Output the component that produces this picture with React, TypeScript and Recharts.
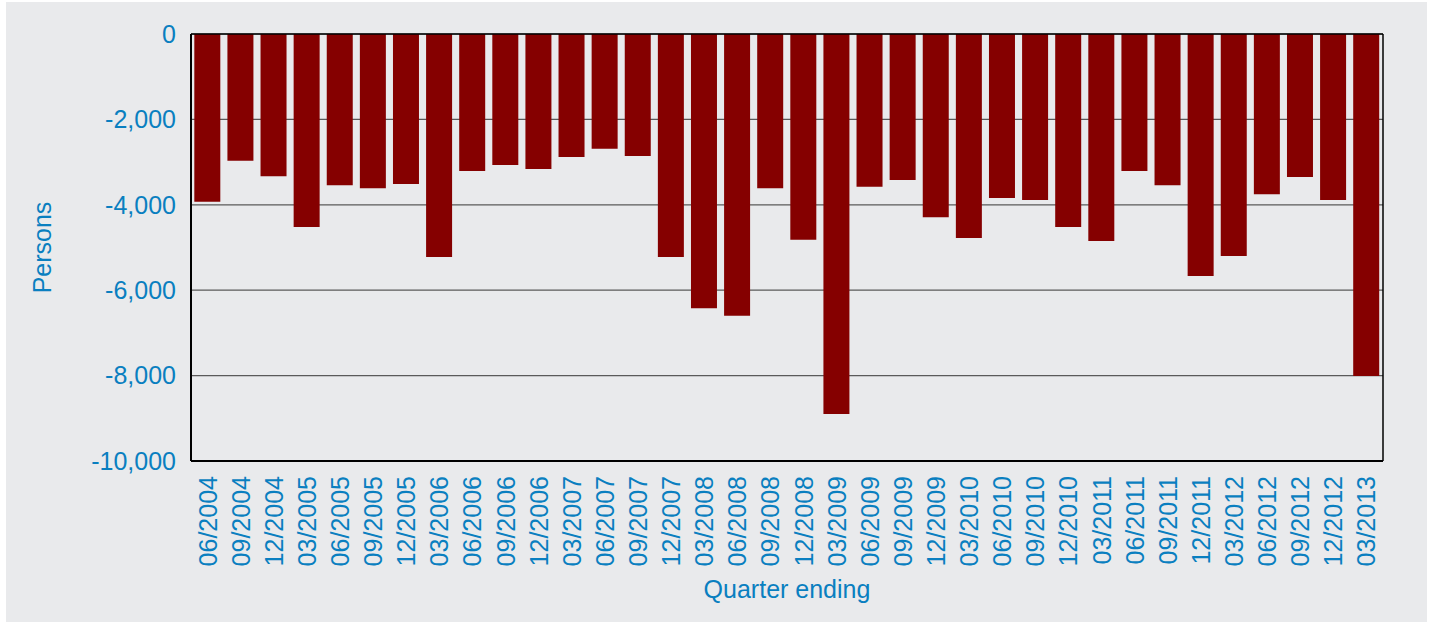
import React from 'react';
import {
    BarChart, Bar, XAxis, YAxis, CartesianGrid, Label, ReferenceLine
} from 'recharts';

const quarters = [
    '06/2004', '09/2004', '12/2004',
    '03/2005', '06/2005', '09/2005', '12/2005',
    '03/2006', '06/2006', '09/2006', '12/2006',
    '03/2007', '06/2007', '09/2007', '12/2007',
    '03/2008', '06/2008', '09/2008', '12/2008',
    '03/2009', '06/2009', '09/2009', '12/2009',
    '03/2010', '06/2010', '09/2010', '12/2010',
    '03/2011', '06/2011', '09/2011', '12/2011',
    '03/2012', '06/2012', '09/2012', '12/2012',
    '03/2013',
];

const persons = [
    -3930, -2970, -3330,
    -4520, -3540, -3610, -3510,
    -5220, -3210, -3070, -3160,
    -2880, -2690, -2860, -5220,
    -6420, -6600, -3610, -4820,
    -8900, -3580, -3420, -4290,
    -4780, -3840, -3890, -4520,
    -4850, -3210, -3540, -5670,
    -5200, -3750, -3350, -3890,
    -8010,
];

const yTicks = [0, -2000, -4000, -6000, -8000, -10000];

const BLUE = '#0a7fc0';
const FONT = '"Liberation Sans", Arial, sans-serif';

const data = quarters.map((q, i) => ({ quarter: q, value: persons[i] }));

// rotated category labels, reading bottom-to-top
const QuarterTick = (props: any) => {
    const { x, y, payload } = props;
    return (
        <text
            x={x}
            y={y}
            transform={`rotate(-90, ${x}, ${y})`}
            textAnchor="end"
            dominantBaseline="central"
            fill={BLUE}
            fontSize={25}
            fontFamily={FONT}
        >
            {payload.value}
        </text>
    );
};

const App: React.FC = () => {
    return (
        <div style={{ position: 'fixed', left: 0, top: 0, width: 1430, height: 622, background: '#fff' }}>
            <div style={{ position: 'absolute', left: 6, top: 2, width: 1421, height: 620, background: '#e9eaec' }} />
            <div style={{ position: 'absolute', left: 0, top: 0 }}>
                <BarChart
                    width={1430}
                    height={622}
                    data={data}
                    margin={{ top: 34, right: 47, left: 0, bottom: 0 }}
                    barCategoryGap="10%"
                >
                    <CartesianGrid horizontal vertical={false} stroke="#5a5a5a" strokeWidth={1.2} />
                    <XAxis
                        dataKey="quarter"
                        interval={0}
                        height={161}
                        tickLine={false}
                        tickSize={0}
                        tickMargin={15}
                        axisLine={{ stroke: '#000', strokeWidth: 2 }}
                        tick={<QuarterTick />}
                    >
                        <Label
                            content={(p: any) => (
                                <text
                                    x={p.viewBox.x + p.viewBox.width / 2}
                                    y={598}
                                    textAnchor="middle"
                                    fill={BLUE}
                                    fontSize={25}
                                    fontFamily={FONT}
                                >
                                    Quarter ending
                                </text>
                            )}
                        />
                    </XAxis>
                    <YAxis
                        width={191}
                        domain={[-10000, 0]}
                        ticks={yTicks}
                        interval={0}
                        tickLine={false}
                        tickSize={0}
                        tickMargin={15}
                        axisLine={{ stroke: '#000', strokeWidth: 2 }}
                        tick={{ fill: BLUE, fontSize: 25, fontFamily: FONT }}
                        tickFormatter={(v: number) => v.toLocaleString('en-US')}
                    >
                        <Label
                            content={(p: any) => {
                                const cy = p.viewBox.y + p.viewBox.height / 2;
                                return (
                                    <text
                                        x={42}
                                        y={cy}
                                        transform={`rotate(-90, 42, ${cy})`}
                                        textAnchor="middle"
                                        dominantBaseline="central"
                                        fill={BLUE}
                                        fontSize={25}
                                        fontFamily={FONT}
                                    >
                                        Persons
                                    </text>
                                );
                            }}
                        />
                    </YAxis>
                    <ReferenceLine y={0} stroke="#000" strokeWidth={1.5} />
                    <ReferenceLine
                        x={quarters[quarters.length - 1]}
                        position="end"
                        stroke="#000"
                        strokeWidth={1.5}
                    />
                    <Bar dataKey="value" fill="#850000" isAnimationActive={false} />
                </BarChart>
            </div>
        </div>
    );
};

export default App;
